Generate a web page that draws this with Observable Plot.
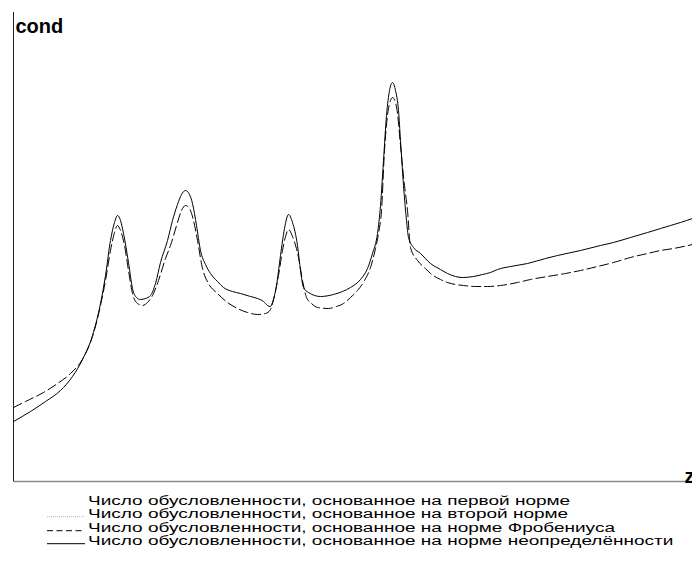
<!DOCTYPE html>
<html>
<head>
<meta charset="utf-8">
<script src="https://cdn.jsdelivr.net/npm/d3@7"></script>
<script src="https://cdn.jsdelivr.net/npm/@observablehq/plot@0.6"></script>
<style>
  html, body { margin: 0; padding: 0; background: #fff; }
  #chart svg { display: block; }
  #legend { margin-top: 7px; font-family: "Liberation Sans", Arial, sans-serif; font-size: 12.5px; color: #000; }
  .row { display: flex; align-items: flex-start; height: 13.3px; line-height: 13.3px; padding-left: 47px; white-space: nowrap; }
  .row svg { flex: none; display: block; }
  .row span { display: inline-block; margin-left: 3px; transform: scaleX(1.52); transform-origin: 0 0; }
</style>
</head>
<body>
<div id="chart"></div>
<div id="legend"></div>
<script>
// Condition number curves (z vs cond)
const infZ = [0.00,0.17,0.32,0.47,0.59,0.69,0.79,0.87,0.92,0.97,1.01,1.04,1.07,1.10,1.15,1.19,1.23,1.27,1.32,1.37,1.42,1.47,1.54,1.59,1.64,1.68,1.72,1.76,1.79,1.83,1.87,1.92,1.97,2.04,2.10,2.19,2.27,2.37,2.44,2.50,2.54,2.57,2.59,2.63,2.67,2.71,2.75,2.79,2.84,2.87,2.90,2.95,3.07,3.20,3.29,3.37,3.47,3.54,3.59,3.64,3.67,3.70,3.73,3.76,3.79,3.82,3.85,3.87,3.90,3.93,3.95,4.00,4.07,4.17,4.27,4.34,4.42,4.49,4.60,4.69,4.77,4.84,4.97,5.14,5.32,5.44,5.67,5.87,6.00,6.17,6.34,6.47,6.57,6.67,6.79];
const infCond = [0.60,0.70,0.80,0.91,1.05,1.22,1.46,1.78,2.06,2.41,2.59,2.66,2.61,2.48,2.19,1.93,1.84,1.82,1.83,1.86,1.98,2.19,2.41,2.61,2.77,2.87,2.91,2.87,2.78,2.56,2.31,2.17,2.08,2.00,1.94,1.90,1.88,1.85,1.83,1.80,1.76,1.75,1.79,1.96,2.26,2.53,2.67,2.59,2.36,2.11,1.94,1.89,1.85,1.87,1.90,1.94,2.02,2.13,2.28,2.48,2.76,3.21,3.66,3.91,3.99,3.91,3.71,3.41,2.96,2.61,2.44,2.34,2.28,2.18,2.12,2.08,2.05,2.04,2.05,2.07,2.09,2.12,2.15,2.18,2.23,2.26,2.31,2.36,2.39,2.44,2.49,2.53,2.56,2.59,2.63];

const froZ = [0.00,0.12,0.30,0.44,0.57,0.70,0.79,0.87,0.92,0.97,1.01,1.04,1.07,1.11,1.15,1.19,1.24,1.29,1.34,1.39,1.45,1.52,1.57,1.64,1.68,1.72,1.76,1.80,1.84,1.89,1.95,2.04,2.14,2.24,2.34,2.44,2.52,2.57,2.61,2.65,2.69,2.72,2.75,2.79,2.85,2.89,2.93,2.98,3.04,3.15,3.23,3.30,3.37,3.44,3.51,3.57,3.62,3.65,3.68,3.71,3.74,3.77,3.79,3.82,3.84,3.87,3.91,3.94,3.97,4.04,4.12,4.17,4.27,4.34,4.42,4.50,4.62,4.74,4.87,5.04,5.17,5.34,5.52,5.67,5.84,6.00,6.17,6.34,6.47,6.60,6.79];
const froCond = [0.74,0.80,0.89,0.98,1.08,1.24,1.45,1.76,2.01,2.31,2.49,2.56,2.51,2.36,2.11,1.88,1.78,1.76,1.79,1.86,2.01,2.23,2.36,2.59,2.71,2.76,2.73,2.61,2.41,2.13,1.98,1.88,1.79,1.73,1.69,1.67,1.68,1.72,1.86,2.06,2.31,2.45,2.52,2.45,2.24,2.01,1.84,1.78,1.74,1.73,1.75,1.78,1.84,1.91,2.01,2.14,2.33,2.48,2.71,3.31,3.66,3.81,3.84,3.79,3.68,3.36,2.96,2.71,2.34,2.21,2.13,2.08,2.02,1.99,1.97,1.96,1.95,1.95,1.96,1.99,2.02,2.05,2.08,2.11,2.15,2.19,2.24,2.28,2.31,2.33,2.37];

const legendLabels = [
  "Число обусловленности, основанное на первой норме",
  "Число обусловленности, основанное на второй норме",
  "Число обусловленности, основанное на норме Фробениуса",
  "Число обусловленности, основанное на норме неопределённости"
];
const yLabel = "cond";
const xLabel = "z";

const inf = infZ.map((z, i) => ({z, cond: infCond[i]}));
const fro = froZ.map((z, i) => ({z, cond: froCond[i]}));

const chart = Plot.plot({
  width: 692,
  height: 488,
  marginLeft: 13,
  marginRight: 0,
  marginTop: 12,
  marginBottom: 7,
  style: {fontFamily: "'Liberation Sans', Arial, sans-serif", background: "#fff"},
  x: {domain: [0, 6.79], axis: null},
  y: {domain: [0, 4.69], axis: null},
  marks: [
    Plot.ruleY([0], {stroke: "#8a8a8a", strokeWidth: 1.3}),
    Plot.ruleX([0], {stroke: "#222", strokeWidth: 1}),
    Plot.line(fro, {x: "z", y: "cond", stroke: "#000", strokeWidth: 1, strokeDasharray: "9,4", curve: "monotone-x"}),
    Plot.line(inf, {x: "z", y: "cond", stroke: "#000", strokeWidth: 1, curve: "monotone-x"}),
    Plot.text([yLabel], {text: d => d, frameAnchor: "top-left", textAnchor: "start", dx: 2, dy: 6, fontSize: 20, fontWeight: "bold", fill: "#000"}),
    Plot.text([xLabel], {text: d => d, frameAnchor: "bottom-right", textAnchor: "start", dx: -8, dy: 1, fontSize: 20, fontWeight: "bold", fill: "#000"})
  ]
});
document.getElementById("chart").appendChild(chart);

const styles = [
  {stroke: "#fff", dash: null},
  {stroke: "#b8b8b8", dash: "1,1"},
  {stroke: "#000", dash: "6,3.5"},
  {stroke: "#000", dash: null}
];
const legend = d3.select("#legend");
legendLabels.forEach((lab, i) => {
  const row = legend.append("div").attr("class", "row");
  const svg = row.append("svg").attr("width", 38).attr("height", 13.3);
  const ln = svg.append("line").attr("x1", 0).attr("x2", 38).attr("y1", 8.7).attr("y2", 8.7)
    .attr("stroke", styles[i].stroke).attr("stroke-width", 1);
  if (styles[i].dash) ln.attr("stroke-dasharray", styles[i].dash);
  row.append("span").text(lab);
});
</script>
</body>
</html>
